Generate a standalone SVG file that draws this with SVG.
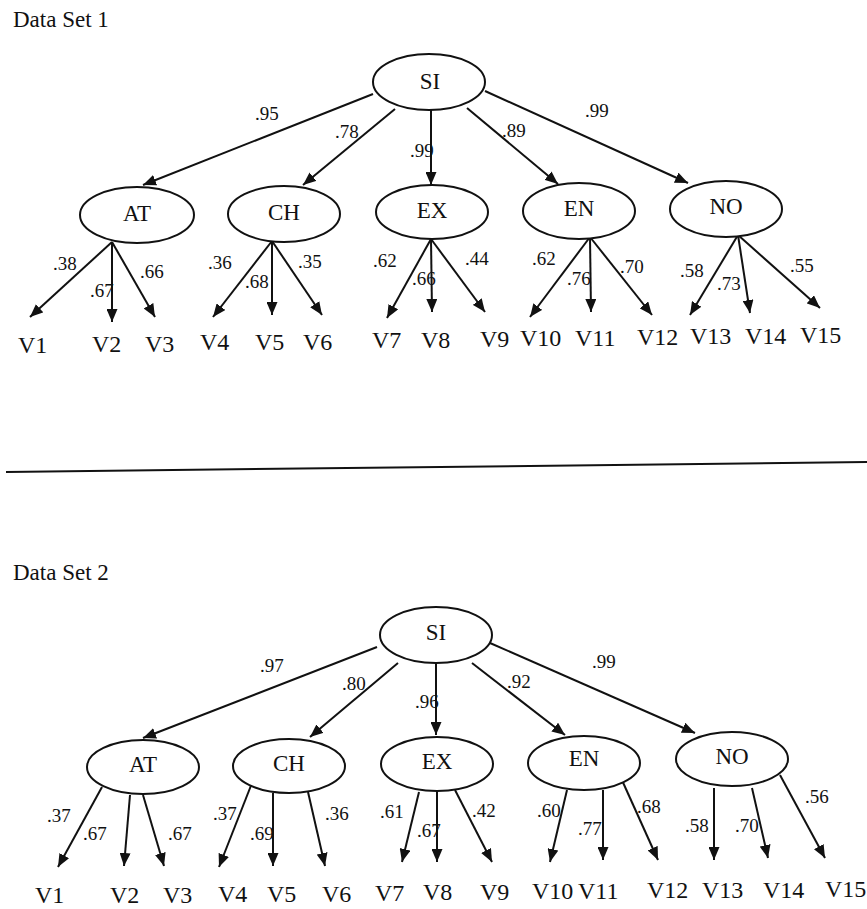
<svg xmlns="http://www.w3.org/2000/svg" width="867" height="909" viewBox="0 0 867 909">
<style>
text{font-family:"Liberation Serif","Times New Roman",serif;fill:#111}
.title{font-size:23px}
.nd ellipse{fill:#fff;stroke:#111;stroke-width:2}
.nd text{font-size:23px;text-anchor:middle}
.v{font-size:24px}
.w{font-size:19px}
.e line{stroke:#111;stroke-width:2;marker-end:url(#ah)}
.sep{stroke:#111;stroke-width:2}
</style>
<defs>
<marker id="ah" markerUnits="userSpaceOnUse" markerWidth="13" markerHeight="11" refX="13" refY="5.5" orient="auto">
<path d="M0,0 L13,5.5 L0,11 z" fill="#111"/>
</marker>
</defs>
<text class="title" x="13" y="27">Data Set 1</text>
<text class="title" x="13" y="580">Data Set 2</text>
<line class="sep" x1="6" y1="472" x2="867" y2="462"/>

<g id="connectors" class="e">
<line x1="373" y1="94" x2="143" y2="185"/>
<line x1="395" y1="109" x2="303" y2="185"/>
<line x1="431" y1="110" x2="431" y2="185"/>
<line x1="467" y1="108" x2="558" y2="184"/>
<line x1="485" y1="91" x2="688" y2="183"/>
<line x1="112" y1="242" x2="30" y2="317"/>
<line x1="112" y1="242" x2="112" y2="322"/>
<line x1="112" y1="242" x2="155" y2="317"/>
<line x1="272" y1="241" x2="213" y2="317"/>
<line x1="272" y1="241" x2="272" y2="315"/>
<line x1="272" y1="241" x2="322" y2="315"/>
<line x1="431" y1="239" x2="387" y2="318"/>
<line x1="431" y1="239" x2="432" y2="312"/>
<line x1="431" y1="239" x2="485" y2="312"/>
<line x1="590" y1="237" x2="530" y2="317"/>
<line x1="590" y1="237" x2="591" y2="312"/>
<line x1="590" y1="237" x2="652" y2="315"/>
<line x1="738" y1="235" x2="690" y2="315"/>
<line x1="738" y1="235" x2="750" y2="313"/>
<line x1="738" y1="235" x2="820" y2="308"/>

<line x1="377" y1="647" x2="143" y2="738"/>
<line x1="398" y1="663" x2="310" y2="737"/>
<line x1="436" y1="663" x2="436" y2="735"/>
<line x1="472" y1="663" x2="565" y2="735"/>
<line x1="490" y1="643" x2="695" y2="733"/>
<line x1="102" y1="787" x2="58" y2="867"/>
<line x1="130" y1="795" x2="124" y2="866"/>
<line x1="143" y1="795" x2="164" y2="866"/>
<line x1="252" y1="783" x2="219" y2="867"/>
<line x1="273" y1="793" x2="273" y2="866"/>
<line x1="308" y1="792" x2="325" y2="866"/>
<line x1="419" y1="792" x2="402" y2="862"/>
<line x1="437" y1="792" x2="437" y2="862"/>
<line x1="455" y1="790" x2="492" y2="862"/>
<line x1="567" y1="790" x2="550" y2="862"/>
<line x1="603" y1="790" x2="603" y2="860"/>
<line x1="621" y1="778" x2="658" y2="860"/>
<line x1="714" y1="788" x2="714" y2="860"/>
<line x1="752" y1="788" x2="768" y2="858"/>
<line x1="780" y1="775" x2="825" y2="858"/>
</g>

<g id="weights" class="w">
<text x="255" y="120">.95</text><text x="335" y="138">.78</text><text x="410" y="157">.99</text><text x="502" y="137">.89</text><text x="585" y="117">.99</text>
<text x="53" y="270">.38</text><text x="90" y="297">.67</text><text x="140" y="278">.66</text>
<text x="208" y="269">.36</text><text x="245" y="288">.68</text><text x="298" y="268">.35</text>
<text x="373" y="267">.62</text><text x="412" y="285">.66</text><text x="465" y="265">.44</text>
<text x="532" y="265">.62</text><text x="567" y="285">.76</text><text x="620" y="273">.70</text>
<text x="680" y="277">.58</text><text x="717" y="290">.73</text><text x="790" y="272">.55</text>

<text x="260" y="672">.97</text><text x="342" y="690">.80</text><text x="415" y="708">.96</text><text x="507" y="688">.92</text><text x="592" y="668">.99</text>
<text x="47" y="822">.37</text><text x="83" y="840">.67</text><text x="168" y="840">.67</text>
<text x="213" y="820">.37</text><text x="250" y="840">.69</text><text x="325" y="820">.36</text>
<text x="380" y="818">.61</text><text x="417" y="837">.67</text><text x="472" y="817">.42</text>
<text x="537" y="817">.60</text><text x="578" y="835">.77</text><text x="637" y="813">.68</text>
<text x="685" y="832">.58</text><text x="735" y="832">.70</text><text x="805" y="803">.56</text>
</g>

<g id="SI_1" class="nd"><ellipse cx="429" cy="82" rx="56" ry="28"/><text x="430" y="89">SI</text></g>
<g id="AT_1" class="nd"><ellipse cx="137" cy="215" rx="57" ry="28"/><text x="137" y="221">AT</text></g>
<g id="CH_1" class="nd"><ellipse cx="284" cy="214" rx="56" ry="28"/><text x="284" y="220">CH</text></g>
<g id="EX_1" class="nd"><ellipse cx="432" cy="212" rx="56" ry="27"/><text x="432" y="218">EX</text></g>
<g id="EN_1" class="nd"><ellipse cx="579" cy="211" rx="56" ry="28"/><text x="579" y="216">EN</text></g>
<g id="NO_1" class="nd"><ellipse cx="726" cy="209" rx="56" ry="28"/><text x="726" y="214">NO</text></g>

<g id="SI_2" class="nd"><ellipse cx="436" cy="635" rx="56" ry="28"/><text x="436" y="640">SI</text></g>
<g id="AT_2" class="nd"><ellipse cx="143" cy="767" rx="56" ry="27"/><text x="143" y="772">AT</text></g>
<g id="CH_2" class="nd"><ellipse cx="289" cy="766" rx="56" ry="27"/><text x="289" y="771">CH</text></g>
<g id="EX_2" class="nd"><ellipse cx="437" cy="764" rx="56" ry="27"/><text x="437" y="769">EX</text></g>
<g id="EN_2" class="nd"><ellipse cx="584" cy="763" rx="56" ry="27"/><text x="584" y="766">EN</text></g>
<g id="NO_2" class="nd"><ellipse cx="732" cy="759" rx="56" ry="27"/><text x="732" y="764">NO</text></g>

<g id="V_1" class="v">
<text id="V1_1" x="18" y="353">V1</text><text id="V2_1" x="92" y="352">V2</text><text id="V3_1" x="145" y="352">V3</text>
<text id="V4_1" x="200" y="350">V4</text><text id="V5_1" x="255" y="350">V5</text><text id="V6_1" x="303" y="350">V6</text>
<text id="V7_1" x="372" y="348">V7</text><text id="V8_1" x="421" y="348">V8</text><text id="V9_1" x="480" y="347">V9</text>
<text id="V10_1" x="520" y="346">V10</text><text id="V11_1" x="575" y="346">V11</text><text id="V12_1" x="637" y="345">V12</text>
<text id="V13_1" x="690" y="344">V13</text><text id="V14_1" x="745" y="344">V14</text><text id="V15_1" x="800" y="343">V15</text>
</g>
<g id="V_2" class="v">
<text id="V1_2" x="35" y="903">V1</text><text id="V2_2" x="110" y="903">V2</text><text id="V3_2" x="163" y="903">V3</text>
<text id="V4_2" x="218" y="902">V4</text><text id="V5_2" x="267" y="902">V5</text><text id="V6_2" x="322" y="902">V6</text>
<text id="V7_2" x="375" y="901">V7</text><text id="V8_2" x="423" y="900">V8</text><text id="V9_2" x="480" y="900">V9</text>
<text id="V10_2" x="532" y="899">V10</text><text id="V11_2" x="578" y="899">V11</text><text id="V12_2" x="647" y="898">V12</text>
<text id="V13_2" x="702" y="898">V13</text><text id="V14_2" x="763" y="898">V14</text><text id="V15_2" x="825" y="897">V15</text>
</g>
</svg>
